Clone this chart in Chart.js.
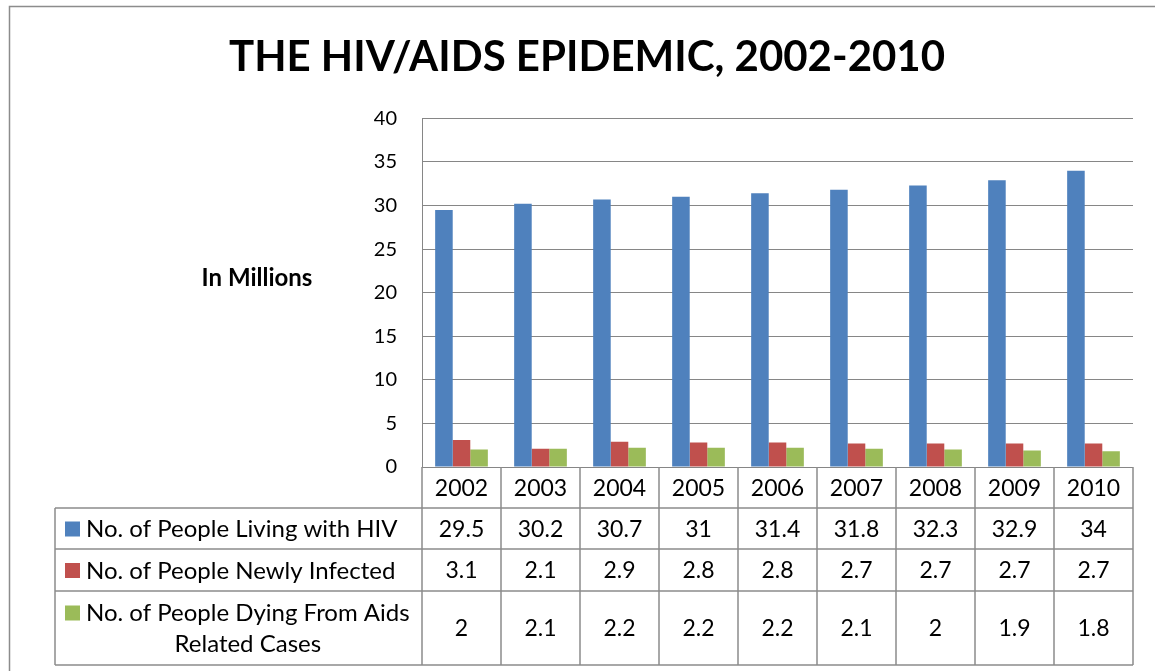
<!DOCTYPE html>
<html>
<head>
<meta charset="utf-8">
<script src="https://cdn.jsdelivr.net/npm/chart.js@4.4.1/dist/chart.umd.min.js"></script>
<style>
  html,body{margin:0;padding:0;background:#fff;}
  #wrap{width:1155px;height:671px;position:relative;}
</style>
</head>
<body>
<div id="wrap"><canvas id="hivChart" width="1155" height="671"></canvas></div>
<script>
const years=["2002","2003","2004","2005","2006","2007","2008","2009","2010"];
const livingWithHiv=[29.5,30.2,30.7,31,31.4,31.8,32.3,32.9,34];
const newlyInfected=[3.1,2.1,2.9,2.8,2.8,2.7,2.7,2.7,2.7];
const dyingFromAids=[2,2.1,2.2,2.2,2.2,2.1,2,1.9,1.8];
const seriesNames=[
    ["No. of People Living with HIV"],
    ["No. of People Newly Infected"],
    ["No. of People Dying From Aids","Related Cases"]
];
const yTicks=[0,5,10,15,20,25,30,35,40];

const FONT="Lato";
const lineColor="#8c8c8c";

// outer frame of the chart object
const framePlugin={
    id:"frame",
    beforeDraw:function(chart){
        const ctx=chart.ctx;
        ctx.save();
        ctx.strokeStyle=lineColor;
        ctx.lineWidth=1.5;
        ctx.strokeRect(9.5,6.5,1300,800);
        ctx.restore();
    }
};

// "In Millions" label + the data table under the plot
const tablePlugin={
    id:"dataTable",
    afterDraw:function(chart){
        const ctx=chart.ctx;
        const x=chart.scales.x;
        const area=chart.chartArea;
        const colW=(area.right-area.left)/years.length;
        const legendLeft=55;
        const rowTops=[area.bottom,508,549,591,665];
        const datasets=chart.data.datasets;

        ctx.save();
        // y axis caption
        ctx.fillStyle="#000";
        ctx.font="bold 24px "+FONT;
        ctx.textAlign="center";
        ctx.textBaseline="middle";
        ctx.fillText("In Millions",257,278);

        // grid lines of the table
        ctx.strokeStyle=lineColor;
        ctx.lineWidth=1.5;
        ctx.beginPath();
        for(let r=1;r<rowTops.length;r++){
            ctx.moveTo(legendLeft,rowTops[r]);
            ctx.lineTo(area.right,rowTops[r]);
        }
        for(let i=0;i<=years.length;i++){
            let xx=area.left+i*colW;
            ctx.moveTo(xx,rowTops[0]);
            ctx.lineTo(xx,rowTops[rowTops.length-1]);
        }
        ctx.moveTo(legendLeft,rowTops[1]);
        ctx.lineTo(legendLeft,rowTops[rowTops.length-1]);
        ctx.stroke();

        ctx.fillStyle="#000";
        ctx.textBaseline="middle";
        ctx.font="23px "+FONT;
        ctx.textAlign="center";
        years.forEach((y,i)=>{
            ctx.fillText(y,x.getPixelForValue(i),(rowTops[0]+rowTops[1])/2+1);
        });

        datasets.forEach((ds,r)=>{
            let cy=(rowTops[r+1]+rowTops[r+2])/2+1;
            ctx.font="23px "+FONT;
            ds.data.forEach((v,i)=>{
                ctx.textAlign="center";
                ctx.fillText(String(v),x.getPixelForValue(i),cy);
            });
            // legend key + name
            let lines=seriesNames[r];
            let firstY=cy-(lines.length-1)*15.5;
            ctx.fillStyle=ds.backgroundColor;
            ctx.fillRect(65,firstY-8,15,15);
            ctx.fillStyle="#000";
            ctx.font="24px "+FONT;
            ctx.textAlign="left";
            ctx.fillText(lines[0],86,firstY);
            let w=ctx.measureText(lines[0]).width;
            for(let k=1;k<lines.length;k++){
                ctx.textAlign="center";
                ctx.fillText(lines[k],86+w/2,firstY+k*31);
            }
        });
        ctx.restore();
    }
};

const ctx=document.getElementById("hivChart").getContext("2d");
const chart=new Chart(ctx,{
    type:"bar",
    data:{
        labels:years,
        datasets:[
            {label:seriesNames[0].join(" "),data:livingWithHiv,backgroundColor:"#4F81BD"},
            {label:seriesNames[1].join(" "),data:newlyInfected,backgroundColor:"#C0504D"},
            {label:seriesNames[2].join(" "),data:dyingFromAids,backgroundColor:"#9BBB59"}
        ]
    },
    options:{
        responsive:false,
        animation:false,
        layout:{padding:{left:41,right:22,top:0,bottom:204}},
        datasets:{bar:{categoryPercentage:0.667,barPercentage:1}},
        plugins:{
            legend:{display:false},
            tooltip:{enabled:false},
            title:{
                display:true,
                text:"THE HIV/AIDS EPIDEMIC, 2002-2010",
                color:"#000",
                font:{family:FONT,size:42,weight:"bold",lineHeight:1.2},
                padding:{top:32,bottom:36}
            }
        },
        scales:{
            x:{display:false},
            y:{
                min:0,max:40,
                afterBuildTicks:function(s){s.ticks=yTicks.map(v=>({value:v}));},
                afterFit:function(s){s.width=381;},
                grid:{color:"#868686",drawTicks:false},
                border:{display:true,color:"#868686"},
                ticks:{color:"#000",font:{family:FONT,size:20},padding:25}
            }
        }
    },
    plugins:[framePlugin,tablePlugin]
});
</script>
</body>
</html>
